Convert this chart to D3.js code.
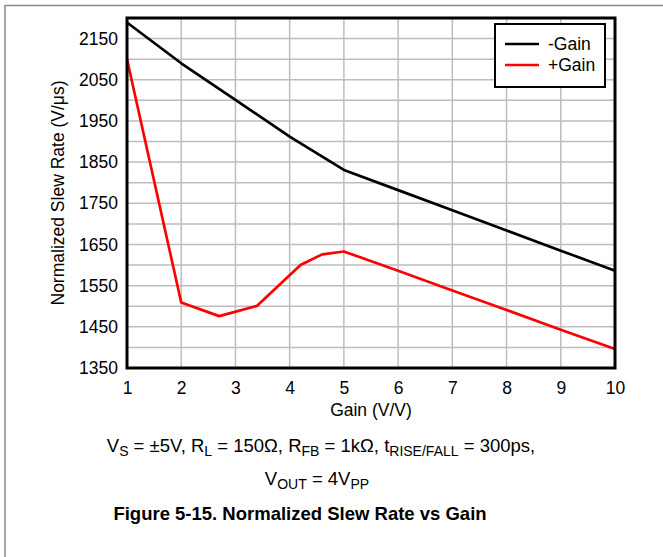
<!DOCTYPE html>
<html>
<head>
<meta charset="utf-8">
<script src="https://cdn.jsdelivr.net/npm/d3@7"></script>
<style>
  body { margin: 0; background: #fff; }
  svg { display: block; font-family: "Liberation Sans", Arial, sans-serif; }
  .grid line { stroke: #bdbdbd; stroke-width: 1.5; }
</style>
</head>
<body>
<div id="chart"></div>
<script>
// data
var gainNeg = [1, 2, 3, 4, 5, 6, 7, 8, 9, 10];
var slewNeg = [2189, 2090, 2001, 1912, 1831, 1782, 1733, 1684, 1635, 1586];
var gainPos = [1, 2, 2.7, 3.4, 4.2, 4.6, 5, 6, 7, 8, 9, 10];
var slewPos = [2100, 1509, 1476, 1501, 1600, 1626, 1633, 1586, 1538, 1491, 1443, 1396];
var xTicks = [1, 2, 3, 4, 5, 6, 7, 8, 9, 10];
var yTicks = [1350, 1450, 1550, 1650, 1750, 1850, 1950, 2050, 2150];
var seriesNames = ['-Gain', '+Gain'];
var seriesColors = ['#000000', '#ff0000'];

var svg = d3.select('#chart').append('svg')
  .attr('width', 663)
  .attr('height', 557);

var pad = {l: 127, t: 18, r: 48, b: 189};
var w = 663 - pad.l - pad.r;
var h = 557 - pad.t - pad.b;

// outer frame (top + left only)
svg.append('line').attr('x1', 5).attr('x2', 663).attr('y1', 5.5).attr('y2', 5.5)
  .attr('stroke', '#8a8a8a').attr('stroke-width', 1.5);
svg.append('line').attr('x1', 5).attr('x2', 5).attr('y1', 5).attr('y2', 557)
  .attr('stroke', '#8a8a8a').attr('stroke-width', 1.5);

var x = d3.scaleLinear().domain([1, 10]).range([0, w]);
var y = d3.scaleLinear().domain([1350, 2200]).range([h, 0]);

var g = svg.append('g').attr('transform', 'translate(' + [pad.l, pad.t] + ')');

// grid
var grid = g.append('g').attr('class', 'grid');
grid.selectAll('.vx').data(d3.range(2, 10)).enter().append('line')
  .attr('x1', x).attr('x2', x).attr('y1', 0).attr('y2', h);
grid.selectAll('.hy').data(d3.range(1400, 2200, 50)).enter().append('line')
  .attr('y1', y).attr('y2', y).attr('x1', 0).attr('x2', w);

// axes (labels only)
var xAxis = g.append('g')
  .attr('transform', 'translate(0,' + h + ')')
  .call(d3.axisBottom(x).tickValues(xTicks).tickFormat(d3.format('d')).tickSize(0).tickPadding(14));
var yAxis = g.append('g')
  .call(d3.axisLeft(y).tickValues(yTicks).tickFormat(d3.format('d')).tickSize(0).tickPadding(9));
[xAxis, yAxis].forEach(function(a) {
  a.select('.domain').remove();
  a.attr('font-family', null).attr('font-size', null);
  a.selectAll('text').style('font-size', '17.5px').attr('fill', '#000');
});

// lines
var line = d3.line()
  .x(function(d) { return x(d[0]); })
  .y(function(d) { return y(d[1]); });

var series = [
  d3.zip(gainNeg, slewNeg),
  d3.zip(gainPos, slewPos)
];
g.selectAll('.series').data(series).enter().append('path')
  .attr('class', 'series')
  .attr('d', line)
  .attr('fill', 'none')
  .attr('stroke', function(d, i) { return seriesColors[i]; })
  .attr('stroke-width', 2.7)
  .attr('stroke-linejoin', 'round');

// plot frame
g.append('rect').attr('width', w).attr('height', h)
  .attr('fill', 'none').attr('stroke', '#000').attr('stroke-width', 3);

// legend
var leg = g.append('g').attr('transform', 'translate(' + (x(10) - 120) + ',6)');
leg.append('rect').attr('width', 110).attr('height', 63)
  .attr('fill', '#fff').attr('stroke', '#000').attr('stroke-width', 2);
var items = leg.selectAll('.item').data(seriesNames).enter().append('g')
  .attr('transform', function(d, i) { return 'translate(10,' + (20 + i * 21) + ')'; });
items.append('line').attr('x1', 0).attr('x2', 34)
  .attr('stroke', function(d, i) { return seriesColors[i]; })
  .attr('stroke-width', 2.7);
items.append('text').attr('x', 43).attr('dy', '0.35em')
  .style('font-size', '17.5px').text(function(d) { return d; });

// axis titles
svg.append('text')
  .attr('x', pad.l + w / 2).attr('y', 416)
  .attr('text-anchor', 'middle').style('font-size', '17.5px')
  .text('Gain (V/V)');
svg.append('text')
  .attr('transform', 'translate(64,' + (pad.t + h / 2) + ') rotate(-90)')
  .attr('text-anchor', 'middle').style('font-size', '17.5px')
  .text('Normalized Slew Rate (V/\u03bcs)');

// conditions
var c1 = svg.append('text').attr('x', 321).attr('y', 452)
  .attr('text-anchor', 'middle').style('font-size', '18.5px');
[['V'], ['S', 4], ['= \u00b15V, R', -4], ['L', 4], ['= 150\u03a9, R', -4], ['FB', 4],
 ['= 1k\u03a9, t', -4], ['RISE/FALL', 4], ['= 300ps,', -4]].forEach(function(s, i) {
  var ts = c1.append('tspan').text((i > 0 && s[1] < 0 ? ' ' : '') + s[0]);
  if (s[1]) ts.attr('dy', s[1]);
  if (s[1] > 0) ts.style('font-size', '14px');
});
var c2 = svg.append('text').attr('x', 317).attr('y', 485)
  .attr('text-anchor', 'middle').style('font-size', '18.5px');
[['V'], ['OUT', 4], [' = 4V', -4], ['PP', 4]].forEach(function(s) {
  var ts = c2.append('tspan').text(s[0]);
  if (s[1]) ts.attr('dy', s[1]);
  if (s[1] > 0) ts.style('font-size', '14px');
});

svg.append('text').attr('x', 300).attr('y', 520)
  .attr('text-anchor', 'middle').style('font-size', '18.5px').style('font-weight', 'bold')
  .text('Figure 5-15. Normalized Slew Rate vs Gain');
</script>
</body>
</html>
